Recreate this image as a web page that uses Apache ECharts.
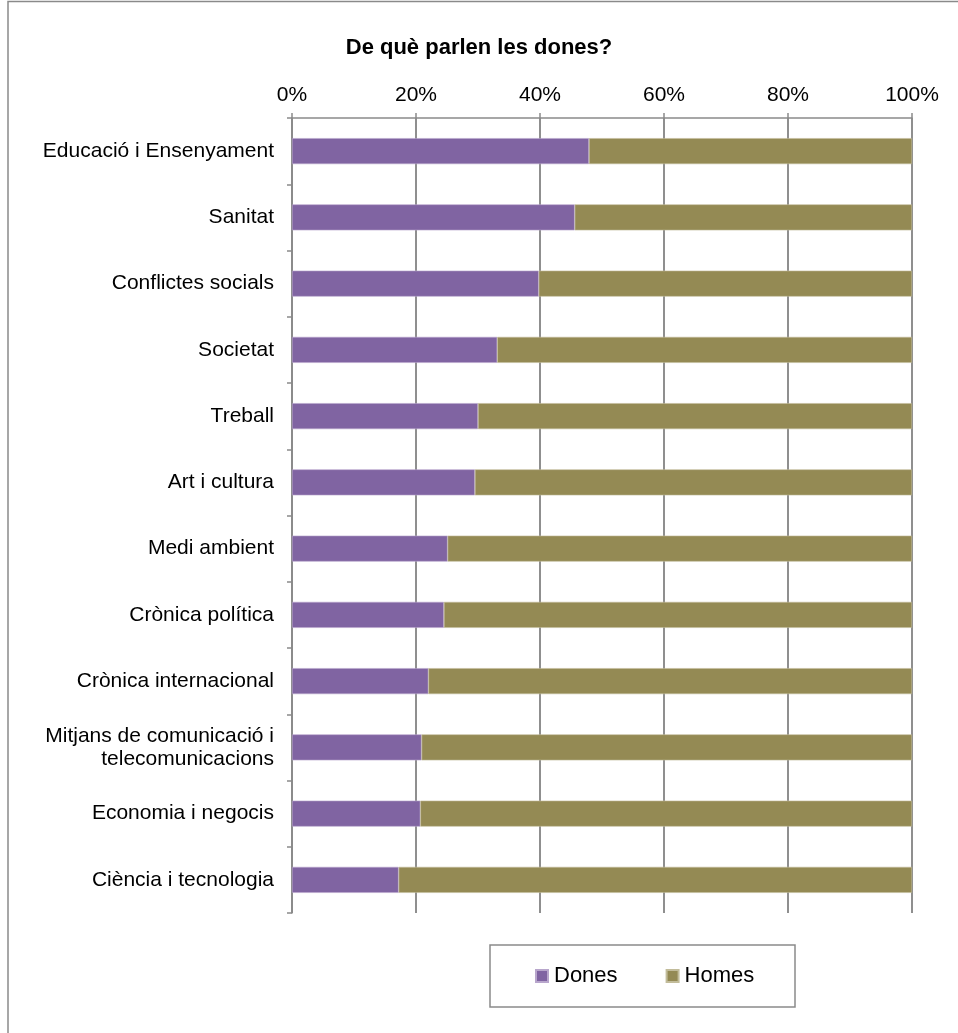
<!DOCTYPE html>
<html>
<head>
<meta charset="utf-8">
<script src="https://cdn.jsdelivr.net/npm/echarts@6/dist/echarts.min.js"></script>
<style>
html,body{margin:0;padding:0;background:#fff;}
#c{width:958px;height:1033px;}
</style>
</head>
<body>
<div id="c"></div>
<script>
const categories = [
  "Educació i Ensenyament",
  "Sanitat",
  "Conflictes socials",
  "Societat",
  "Treball",
  "Art i cultura",
  "Medi ambient",
  "Crònica política",
  "Crònica internacional",
  "Mitjans de comunicació i\ntelecomunicacions",
  "Economia i negocis",
  "Ciència i tecnologia"
];
const dones = [47.9, 45.6, 39.8, 33.1, 30.0, 29.5, 25.1, 24.5, 22.0, 20.9, 20.7, 17.2];
const homes = [52.1, 54.4, 60.2, 66.9, 70.0, 70.5, 74.9, 75.5, 78.0, 79.1, 79.3, 82.8];
const xTicks = [0, 20, 40, 60, 80, 100];

const chart = echarts.init(document.getElementById('c'));
const font = '"Liberation Sans", Arial, sans-serif';
chart.setOption({
  animation: false,
  backgroundColor: '#fff',
  textStyle: { fontFamily: font },
  title: {
    text: 'De què parlen les dones?',
    left: 'center',
    top: 32,
    textStyle: { fontFamily: font, fontSize: 22, fontWeight: 'bold', color: '#000' }
  },
  graphic: [
    { type: 'rect', shape: { x: 8, y: 1.5, width: 980, height: 1060 },
      style: { fill: 'none', stroke: '#8a8a8a', lineWidth: 1.5 }, silent: true },
    { type: 'rect', shape: { x: 490, y: 945, width: 305, height: 62 },
      style: { fill: 'none', stroke: '#8a8a8a', lineWidth: 1.5 }, silent: true }
  ],
  legend: {
    left: 535,
    top: 965,
    padding: 0,
    itemWidth: 12,
    itemHeight: 12,
    itemGap: 48,
    icon: 'rect',
    textStyle: { fontFamily: font, fontSize: 22, color: '#000', padding: [0, 0, 0, 1] },
    data: ['Dones', 'Homes']
  },
  grid: { left: 292, right: 46, top: 118, bottom: 120, containLabel: false },
  xAxis: {
    type: 'value',
    position: 'top',
    min: xTicks[0],
    max: xTicks[xTicks.length - 1],
    interval: 20,
    axisLine: { show: true, lineStyle: { color: '#8a8a8a', width: 1.5 } },
    axisTick: { show: true, length: 5, lineStyle: { color: '#8a8a8a', width: 1.5 } },
    axisLabel: { formatter: '{value}%', fontSize: 21, color: '#000', margin: 12, fontFamily: font },
    splitLine: { show: true, lineStyle: { color: '#8f8f8f', width: 2 } }
  },
  yAxis: {
    type: 'category',
    inverse: true,
    data: categories,
    axisLine: { show: true, lineStyle: { color: '#8a8a8a', width: 1.5 } },
    axisTick: { show: true, length: 5, alignWithLabel: false, lineStyle: { color: '#8a8a8a', width: 1.5 } },
    axisLabel: { fontSize: 21, color: '#000', margin: 18, lineHeight: 23, align: 'right', fontFamily: font },
    splitLine: { show: false }
  },
  series: [
    { name: 'Dones', type: 'bar', stack: 'total', data: dones, barWidth: 26,
      itemStyle: { color: '#8064A2', borderColor: '#b8a6cc', borderWidth: 0.6 } },
    { name: 'Homes', type: 'bar', stack: 'total', data: homes, barWidth: 26,
      itemStyle: { color: '#948A54', borderColor: '#c2bc9a', borderWidth: 0.6 } }
  ]
});
</script>
</body>
</html>
